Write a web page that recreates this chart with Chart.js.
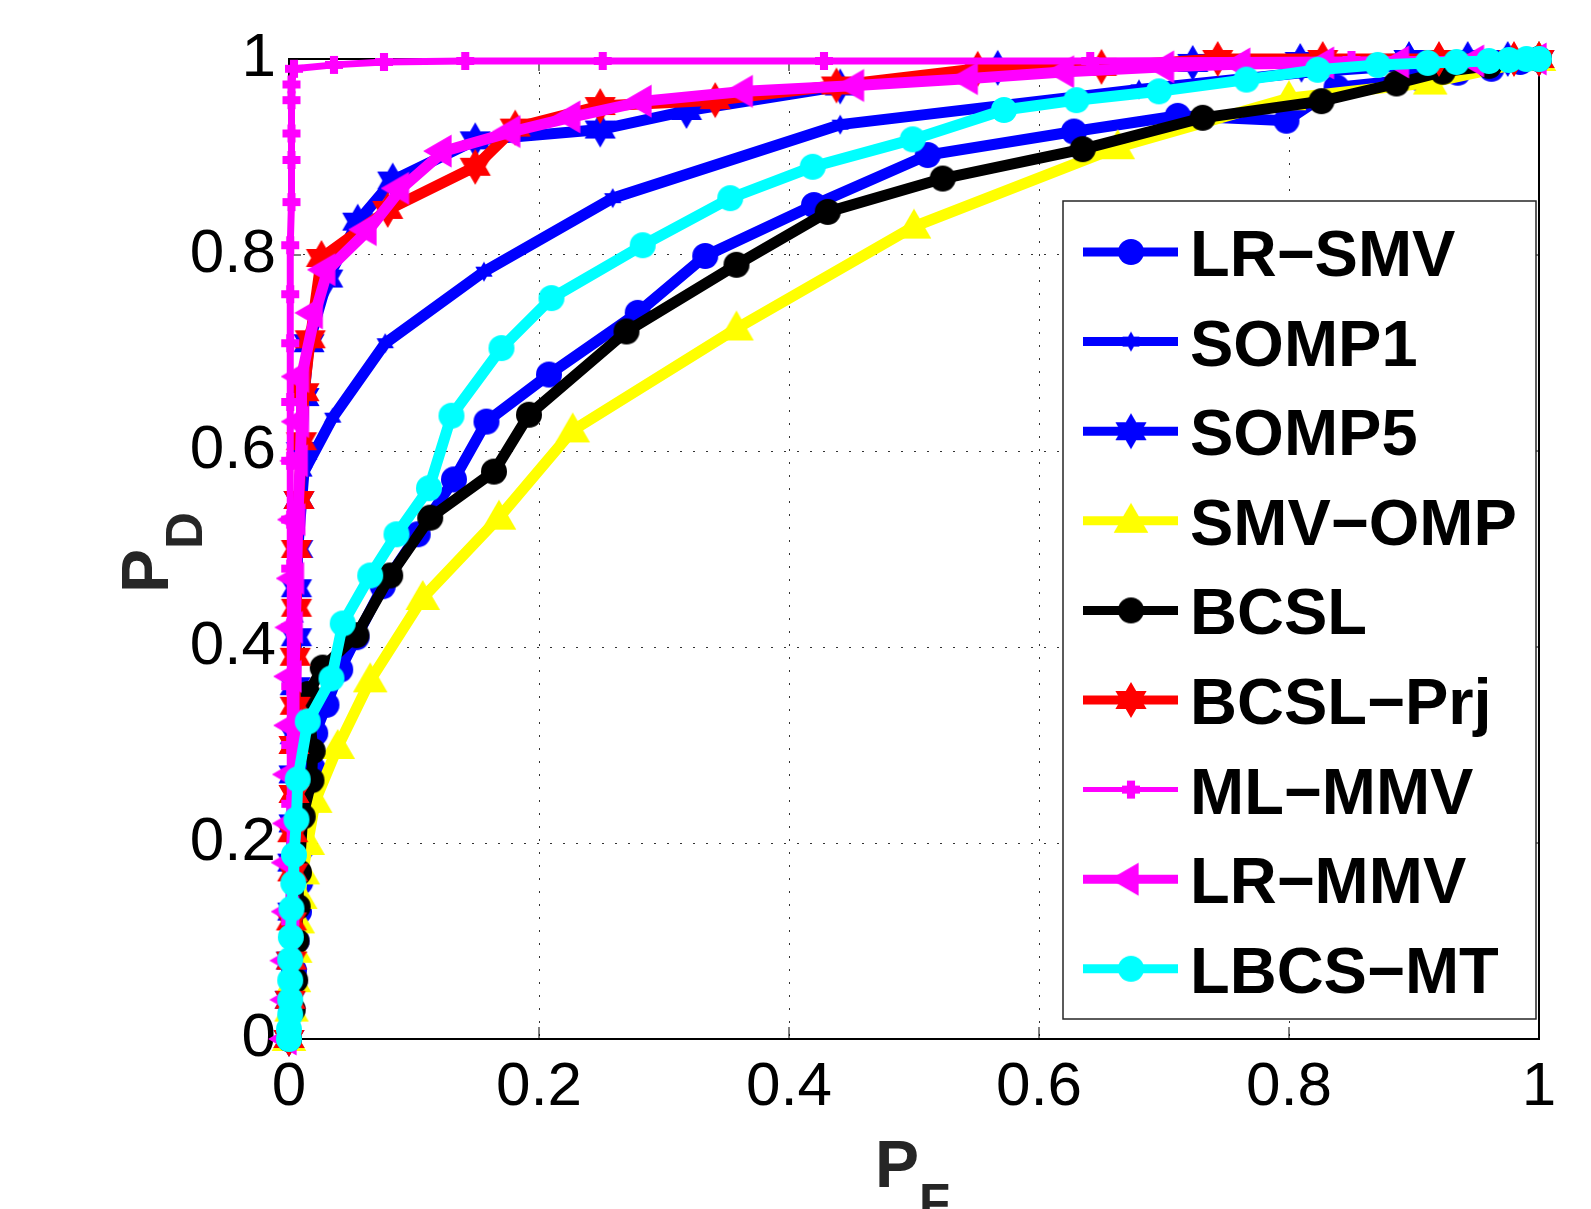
<!DOCTYPE html>
<html>
<head>
<meta charset="utf-8">
<script src="https://cdn.jsdelivr.net/npm/chart.js@4.4.0/dist/chart.umd.min.js"></script>
<style>
  html, body { margin: 0; padding: 0; background: #fff; }
</style>
</head>
<body>
<canvas id="roc" width="1591" height="1209"></canvas>
<script>
// ROC curves, PF on x, PD on y. each series is a list of [PF, PD] points
var seriesNames = ['LR\u2212SMV', 'SOMP1', 'SOMP5', 'SMV\u2212OMP', 'BCSL', 'BCSL\u2212Prj', 'ML\u2212MMV', 'LR\u2212MMV', 'LBCS\u2212MT'];

var lrSmv = [[0,0],[0.002,0.03],[0.004,0.07],[0.006,0.1],[0.008,0.13],[0.009,0.16],[0.01,0.195],[0.013,0.235],[0.019,0.276],[0.021,0.312],[0.03,0.341],[0.041,0.377],[0.054,0.41],[0.075,0.462],[0.103,0.515],[0.132,0.571],[0.158,0.63],[0.208,0.678],[0.279,0.741],[0.333,0.799],[0.42,0.851],[0.511,0.902],[0.628,0.926],[0.711,0.942],[0.798,0.937],[0.838,0.971],[0.905,0.98],[0.935,0.986],[0.962,0.99],[0.985,0.997],[1,1]];
var somp1 = [[0,0],[0.001,0.08],[0.002,0.17],[0.003,0.26],[0.004,0.35],[0.005,0.43],[0.007,0.5],[0.012,0.579],[0.035,0.634],[0.077,0.71],[0.156,0.783],[0.259,0.858],[0.441,0.933],[0.68,0.969],[0.81,0.986],[0.9,0.994],[1,1]];
var somp5 = [[0,0],[0.001,0.04],[0.002,0.08],[0.003,0.13],[0.003,0.18],[0.004,0.22],[0.004,0.27],[0.005,0.31],[0.005,0.36],[0.006,0.41],[0.006,0.46],[0.007,0.5],[0.008,0.55],[0.01,0.6],[0.012,0.655],[0.016,0.71],[0.031,0.776],[0.055,0.834],[0.083,0.876],[0.149,0.917],[0.249,0.928],[0.318,0.947],[0.441,0.972],[0.567,0.991],[0.723,0.996],[0.809,0.998],[0.896,1],[0.943,1],[0.975,1],[1,1]];
var smvOmp = [[0,0],[0.002,0.03],[0.004,0.06],[0.005,0.09],[0.007,0.12],[0.009,0.145],[0.011,0.17],[0.015,0.2],[0.021,0.243],[0.039,0.298],[0.065,0.366],[0.107,0.45],[0.168,0.532],[0.227,0.621],[0.358,0.725],[0.5,0.829],[0.663,0.91],[0.8,0.96],[0.913,0.976],[1,1]];
var bcsl = [[0,0],[0.003,0.03],[0.005,0.06],[0.006,0.1],[0.007,0.135],[0.008,0.17],[0.011,0.227],[0.018,0.264],[0.019,0.294],[0.015,0.352],[0.027,0.379],[0.054,0.412],[0.081,0.473],[0.113,0.532],[0.164,0.579],[0.192,0.637],[0.27,0.722],[0.358,0.79],[0.431,0.844],[0.523,0.878],[0.635,0.908],[0.731,0.94],[0.826,0.957],[0.886,0.975],[0.923,0.987],[0.96,0.993],[1,1]];
var bcslPrj = [[0,0],[0.001,0.04],[0.002,0.08],[0.002,0.12],[0.003,0.17],[0.003,0.21],[0.004,0.25],[0.004,0.3],[0.005,0.34],[0.005,0.39],[0.006,0.44],[0.006,0.5],[0.008,0.55],[0.01,0.61],[0.012,0.66],[0.017,0.714],[0.026,0.797],[0.079,0.846],[0.149,0.89],[0.181,0.93],[0.249,0.952],[0.341,0.958],[0.438,0.973],[0.551,0.99],[0.65,0.992],[0.743,1],[0.827,1],[0.92,1],[0.98,1],[1,1]];
var mlMmv = [[0,0],[0.001,0.06],[0.001,0.12],[0.001,0.18],[0.001,0.24],[0.001,0.3],[0.001,0.36],[0.001,0.42],[0.001,0.48],[0.001,0.53],[0.001,0.59],[0.001,0.65],[0.001,0.71],[0.001,0.76],[0.001,0.81],[0.002,0.854],[0.002,0.897],[0.002,0.924],[0.002,0.958],[0.002,0.974],[0.004,0.99],[0.036,0.994],[0.076,0.997],[0.141,0.998],[0.251,0.998],[0.428,0.998],[0.641,0.998],[0.85,0.999],[1,1]];
var lrMmv = [[0,0],[0.001,0.04],[0.001,0.08],[0.002,0.13],[0.002,0.18],[0.003,0.22],[0.003,0.27],[0.004,0.32],[0.004,0.37],[0.005,0.42],[0.006,0.47],[0.007,0.53],[0.009,0.59],[0.01,0.63],[0.01,0.676],[0.021,0.741],[0.031,0.785],[0.064,0.826],[0.09,0.868],[0.124,0.906],[0.179,0.926],[0.227,0.941],[0.284,0.957],[0.365,0.967],[0.454,0.973],[0.545,0.98],[0.622,0.987],[0.702,0.992],[0.763,0.995],[0.83,0.996],[0.89,0.997],[0.95,0.998],[1,1]];
var lbcsMt = [[0,0],[0,0.01],[0.001,0.025],[0.001,0.04],[0.001,0.06],[0.001,0.081],[0.0015,0.104],[0.002,0.133],[0.0035,0.159],[0.004,0.188],[0.006,0.224],[0.007,0.265],[0.015,0.324],[0.034,0.368],[0.043,0.424],[0.065,0.473],[0.086,0.515],[0.112,0.562],[0.13,0.636],[0.17,0.705],[0.21,0.756],[0.283,0.81],[0.353,0.858],[0.419,0.89],[0.499,0.918],[0.572,0.948],[0.63,0.958],[0.696,0.967],[0.766,0.979],[0.823,0.989],[0.871,0.994],[0.911,0.996],[0.934,0.997],[0.96,0.998],[0.976,0.999],[0.99,1],[1,1]];

var pfTicks = [0, 0.2, 0.4, 0.6, 0.8, 1];
var pdTicks = [0, 0.2, 0.4, 0.6, 0.8, 1];
var tickLabels = ['0', '0.2', '0.4', '0.6', '0.8', '1'];

var curves = [lrSmv, somp1, somp5, smvOmp, bcsl, bcslPrj, mlMmv, lrMmv, lbcsMt];

// line colour, width and marker (shape, radius) for each curve
var looks = [
    {color: '#0000ff', width: 11, shape: 'circle', r: 13},
    {color: '#0000ff', width: 11, shape: 'hexagram', r: 10},
    {color: '#0000ff', width: 11, shape: 'hexagram', r: 18},
    {color: '#ffff00', width: 11, shape: 'up', r: 20},
    {color: '#000000', width: 11, shape: 'circle', r: 13},
    {color: '#ff0000', width: 11, shape: 'hexagram', r: 18},
    {color: '#ff00ff', width: 7, shape: 'plus', r: 9},
    {color: '#ff00ff', width: 11, shape: 'left', r: 19},
    {color: '#00ffff', width: 11, shape: 'circle', r: 13}
];

var FONT = "'Liberation Sans', Arial, Helvetica, sans-serif";

function triPath(g, cx, cy, r, ang) {
    for (var k = 0; k < 3; k++) {
        var a = (ang + k * 120) * Math.PI / 180;
        var x = cx + r * Math.cos(a), y = cy + r * Math.sin(a);
        if (k) g.lineTo(x, y); else g.moveTo(x, y);
    }
    g.closePath();
}

// little canvas used as the point style (chart.js draws it centred on the point)
function markerCanvas(shape, color, r) {
    var size = Math.ceil(2 * r + 4);
    var c = document.createElement('canvas');
    c.width = size; c.height = size;
    var g = c.getContext('2d');
    var m = size / 2;
    g.fillStyle = color;
    g.beginPath();
    if (shape === 'circle') {
        g.arc(m, m, r, 0, 2 * Math.PI);
    } else if (shape === 'hexagram') {
        triPath(g, m, m, r, -90);
        triPath(g, m, m, r, 90);
    } else if (shape === 'up') {
        triPath(g, m, m + r * 0.1, r, -90);
    } else if (shape === 'left') {
        triPath(g, m - r * 0.1, m, r, 180);
    } else if (shape === 'plus') {
        g.rect(m - r * 0.45, m - r, r * 0.9, 2 * r);
        g.rect(m - r, m - r * 0.45, 2 * r, r * 0.9);
    }
    g.fill('nonzero');
    return c;
}

var datasets = curves.map(function (pts, i) {
    var lk = looks[i];
    return {
        label: seriesNames[i],
        data: pts.map(function (p) { return {x: p[0], y: p[1]}; }),
        borderColor: lk.color,
        backgroundColor: lk.color,
        borderWidth: lk.width,
        pointStyle: markerCanvas(lk.shape, lk.color, lk.r),
        pointRadius: lk.r,
        tension: 0,
        clip: false,
        order: -i
    };
});

// box on the top and right, inward tick marks
var boxPlugin = {
    id: 'box',
    beforeDatasetsDraw: function (chart) {
        var ctx = chart.ctx, a = chart.chartArea;
        var xs = chart.scales.x, ys = chart.scales.y;
        ctx.save();
        ctx.strokeStyle = '#000';
        ctx.lineWidth = 2;
        ctx.beginPath();
        ctx.moveTo(a.left, a.top); ctx.lineTo(a.right, a.top); ctx.lineTo(a.right, a.bottom);
        ctx.stroke();
        ctx.lineWidth = 1;
        ctx.beginPath();
        pfTicks.forEach(function (v) {
            var px = xs.getPixelForValue(v);
            ctx.moveTo(px, a.bottom); ctx.lineTo(px, a.bottom - 12);
            ctx.moveTo(px, a.top); ctx.lineTo(px, a.top + 12);
        });
        pdTicks.forEach(function (v) {
            var py = ys.getPixelForValue(v);
            ctx.moveTo(a.left, py); ctx.lineTo(a.left + 12, py);
            ctx.moveTo(a.right, py); ctx.lineTo(a.right - 12, py);
        });
        ctx.stroke();
        ctx.restore();
    }
};

// matlab style legend box and the P_F / P_D labels with subscripts
var legendPlugin = {
    id: 'matLegend',
    afterDraw: function (chart) {
        var ctx = chart.ctx;
        var left = 1063, top = 201, right = 1536, bottom = 1019;
        ctx.save();
        ctx.fillStyle = '#fff';
        ctx.fillRect(left, top, right - left, bottom - top);
        ctx.strokeStyle = '#262626';
        ctx.lineWidth = 1.5;
        ctx.strokeRect(left, top, right - left, bottom - top);

        chart.data.datasets.forEach(function (ds, i) {
            var cy = 252 + i * 89.6;
            ctx.strokeStyle = ds.borderColor;
            ctx.lineWidth = ds.borderWidth - 2;
            ctx.beginPath();
            ctx.moveTo(1083, cy); ctx.lineTo(1178, cy);
            ctx.stroke();
            var mk = ds.pointStyle;
            ctx.drawImage(mk, 1131 - mk.width / 2, cy - mk.height / 2);
            ctx.fillStyle = '#000';
            ctx.font = 'bold 65px ' + FONT;
            ctx.textAlign = 'left';
            ctx.textBaseline = 'alphabetic';
            ctx.fillText(ds.label, 1190, cy + 24);
        });

        // axis titles
        ctx.fillStyle = '#262626';
        ctx.textAlign = 'left';
        ctx.textBaseline = 'alphabetic';
        ctx.font = 'bold 66px ' + FONT;
        ctx.fillText('P', 875, 1187);
        ctx.font = 'bold 51px ' + FONT;
        ctx.fillText('F', 919, 1220);

        ctx.translate(168, 593);
        ctx.rotate(-Math.PI / 2);
        ctx.font = 'bold 66px ' + FONT;
        ctx.fillText('P', 0, 0);
        ctx.font = 'bold 51px ' + FONT;
        ctx.fillText('D', 44, 34);
        ctx.restore();
    }
};

function tickFont() { return {family: FONT, size: 62}; }

var config = {
    type: 'line',
    data: { datasets: datasets },
    options: {
        responsive: false,
        animation: false,
        devicePixelRatio: 1,
        layout: { padding: {top: 59, right: 52, left: 0, bottom: 0} },
        plugins: { legend: {display: false}, tooltip: {enabled: false} },
        scales: {
            x: {
                type: 'linear', min: 0, max: 1,
                afterFit: function (s) { s.height = 170; },
                afterBuildTicks: function (s) { s.ticks = pfTicks.map(function (v) { return {value: v}; }); },
                ticks: {
                    font: tickFont(), color: '#000', padding: 12, maxRotation: 0,
                    callback: function (v, i) { return tickLabels[i]; }
                },
                grid: { color: '#333', lineWidth: 1, drawTicks: false },
                border: { display: true, color: '#000', width: 2, dash: [2, 11] }
            },
            y: {
                type: 'linear', min: 0, max: 1,
                afterFit: function (s) { s.width = 289; },
                afterBuildTicks: function (s) { s.ticks = pdTicks.map(function (v) { return {value: v}; }); },
                ticks: {
                    font: tickFont(), color: '#000', padding: 13,
                    callback: function (v, i) { return tickLabels[i]; }
                },
                grid: { color: '#333', lineWidth: 1, drawTicks: false },
                border: { display: true, color: '#000', width: 2, dash: [2, 11] }
            }
        }
    },
    plugins: [boxPlugin, legendPlugin]
};

var ctx = document.getElementById('roc').getContext('2d');
window.rocChart = new Chart(ctx, config);
</script>
</body>
</html>
